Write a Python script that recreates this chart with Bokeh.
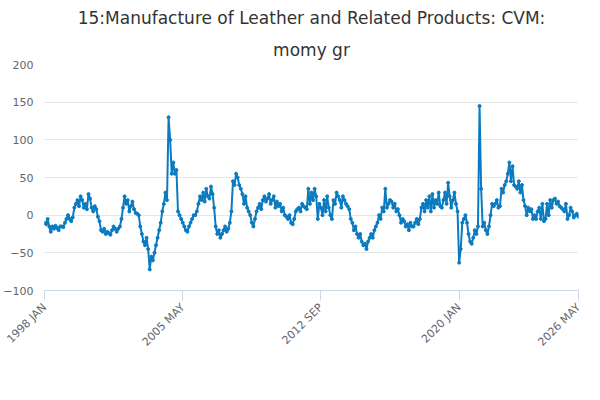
import numpy as np
from bokeh.plotting import figure
from bokeh.models import Legend, LegendItem, Title, FixedTicker, ColumnDataSource
from bokeh.embed import file_html
from bokeh.resources import INLINE

start_year = 1998
values = [
 -10,-12,-5,-15,-22,-15,-18,-14,-17,-20,-15,-15,
 -16,-10,-5,0,-5,-8,-3,10,15,20,12,25,
 20,10,15,8,28,22,10,5,12,8,-2,-8,
 -20,-22,-18,-25,-22,-24,-26,-20,-15,-18,-22,-18,
 -15,-5,10,25,15,20,5,12,18,8,3,2,
 0,-15,-25,-35,-40,-30,-45,-72,-55,-60,-50,-40,
 -30,-20,-10,5,15,30,20,130,100,55,70,55,
 60,5,0,-5,-10,-15,-20,-22,-15,-10,-5,0,
 0,5,15,25,20,30,18,35,25,22,38,28,
 10,-15,-25,-20,-30,-25,-20,-15,-22,-18,-10,5,
 45,40,55,50,40,35,28,15,25,10,5,0,
 -10,-15,-5,5,10,15,8,20,25,18,22,28,
 15,20,25,10,18,12,15,5,10,0,-2,-5,
 0,-10,-12,-5,5,8,10,5,15,12,10,8,
 35,15,30,20,35,25,-5,15,10,0,20,5,
 25,10,0,-5,20,15,30,25,20,10,25,20,
 15,12,8,-5,-10,-20,-15,-25,-30,-25,-35,-40,
 -38,-45,-35,-30,-25,-30,-20,-15,-10,0,-5,10,
 5,35,10,15,20,18,10,15,5,8,0,-10,
 -5,-8,-15,-12,-20,-10,-15,-15,-10,-5,-12,-5,
 10,15,5,20,10,25,5,28,10,20,15,30,
 12,10,20,30,15,43,25,10,20,30,15,5,
 -63,-45,-10,-5,0,-10,-25,-35,-38,-30,-20,-25,
 -15,145,35,-15,-10,-20,-25,-15,0,15,12,15,
 20,10,12,35,30,40,45,55,70,45,65,40,
 38,35,45,30,40,20,12,0,10,5,8,-5,
 0,-5,5,10,-5,15,-8,-5,15,0,20,10,
 20,22,15,18,12,10,8,5,15,-5,0,10,
 5,-3,0,2,-2,
]
tick_labels = ["1998 JAN", "2005 MAY", "2012 SEP", "2020 JAN", "2026 MAY"]
series_name = "15:Manufacture of Leather and Related Products: CVM: momy gr"

x = list(range(len(values)))
months = ["JAN","FEB","MAR","APR","MAY","JUN","JUL","AUG","SEP","OCT","NOV","DEC"]
labels = [f"{start_year + i//12} {months[i%12]}" for i in x]
tick_pos = [labels.index(t) if t in labels else len(values) for t in tick_labels]

color = "#0b7bc1"
p = figure(frame_width=534, frame_height=226, output_backend="svg", toolbar_location=None,
           x_range=(0, tick_pos[-1]), y_range=(-100, 200),
           min_border_left=42, min_border_right=8, min_border_top=0, min_border_bottom=0)
src = ColumnDataSource(dict(x=x, y=values))
r1 = p.line("x", "y", source=src, line_color=color, line_width=2)
r2 = p.scatter("x", "y", source=src, size=3, color=color)

p.xaxis.ticker = FixedTicker(ticks=tick_pos)
p.xaxis.major_label_overrides = {tp: t for tp, t in zip(tick_pos, tick_labels)}
p.xaxis.major_label_orientation = 0.785
p.xaxis.axis_line_color = "#ccd6eb"
p.xaxis.major_tick_line_color = "#ccd6eb"
p.xaxis.major_tick_in = 0
p.xaxis.major_tick_out = 10
p.xaxis.minor_tick_line_color = None
p.xgrid.grid_line_color = None
p.yaxis.ticker = FixedTicker(ticks=[-100, -50, 0, 50, 100, 150, 200])
p.yaxis.axis_line_color = None
p.yaxis.major_tick_line_color = None
p.yaxis.minor_tick_line_color = None
p.ygrid.grid_line_color = "#e6e6e6"
for ax in (p.xaxis, p.yaxis):
    ax.major_label_text_color = "#666666"
    ax.major_label_text_font_size = "11px"
    ax.major_label_text_font = "DejaVu Sans"
p.outline_line_color = None

legend = Legend(items=[LegendItem(label=series_name, renderers=[r1, r2])],
                orientation="horizontal",
                label_text_font_style="bold", label_text_font_size="13px",
                label_text_font="DejaVu Sans", label_text_color="#333333",
                border_line_color=None, glyph_width=22, padding=2, margin=8)
p.add_layout(legend, "below")
src_title = Title(text="Source:", align="right", text_font_size="12px",
                  text_font_style="normal", text_color="#333333", text_font="DejaVu Sans")
p.add_layout(src_title, "below")

p.add_layout(Title(text="momy gr", align="center", text_font_size="17px",
                   text_font_style="normal", text_color="#333333", text_font="DejaVu Sans"), "above")
p.add_layout(Title(text="15:Manufacture of Leather and Related Products: CVM:", align="center",
                   text_font_size="17px", text_font_style="normal", text_color="#333333",
                   text_font="DejaVu Sans"), "above")

open("out.html", "w").write(file_html(p, INLINE))
